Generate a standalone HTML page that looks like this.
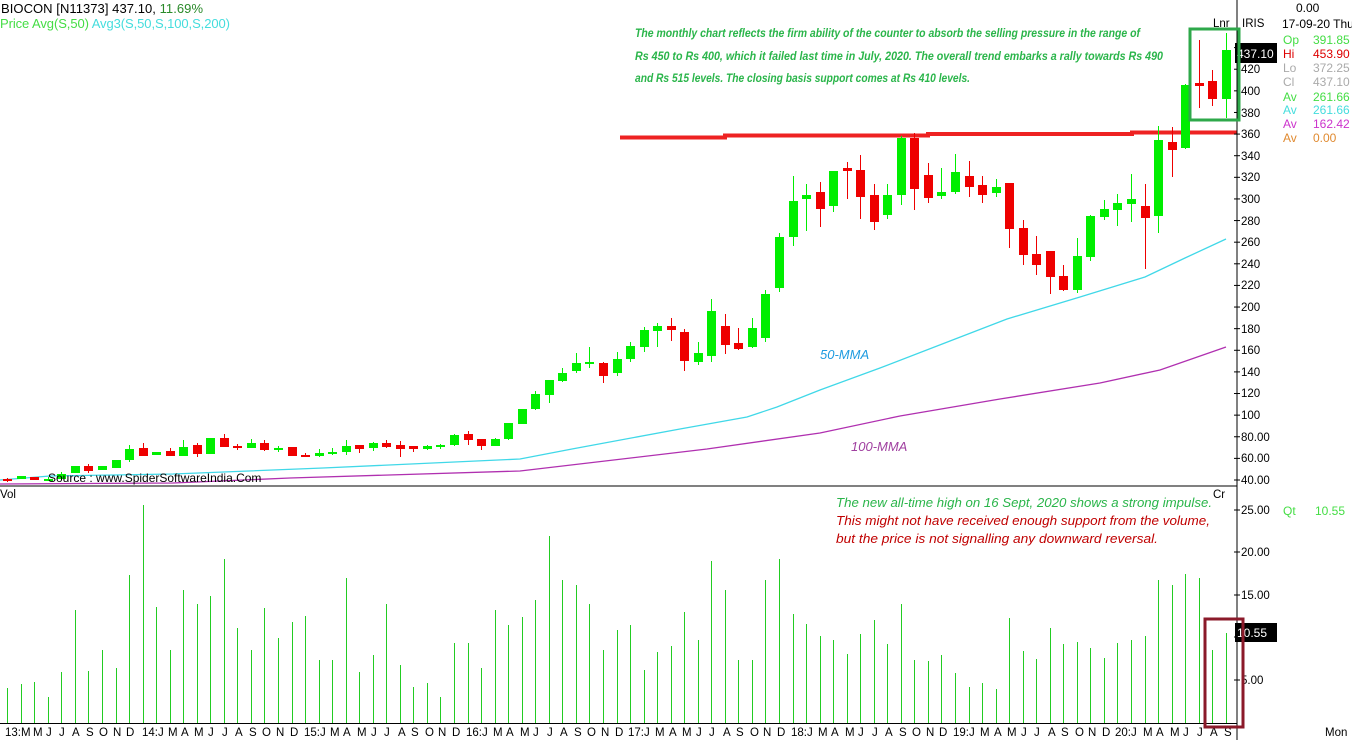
<!DOCTYPE html>
<html><head><meta charset="utf-8"><style>
html,body{margin:0;padding:0;background:#fff;width:1352px;height:740px;overflow:hidden}
svg{display:block;font-family:"Liberation Sans",sans-serif}
.ax{font-size:11.5px;fill:#000}
.ann{font-size:12px;font-style:italic;font-weight:bold;fill:#2ab54a}
.ann2{font-size:13px;font-style:italic}
</style></head><body>
<svg id="s" width="1352" height="740" viewBox="0 0 1352 740">
<g id="plot"></g>
<line x1="1237" y1="0" x2="1237" y2="740" stroke="#000" stroke-width="1"/>
<line x1="0" y1="486" x2="1237" y2="486" stroke="#000" stroke-width="1"/>
<line x1="0" y1="723.5" x2="1237" y2="723.5" stroke="#000" stroke-width="1"/>
<g id="ticks"></g>
<text x="1" y="13" font-size="13" fill="#000" textLength="202">BIOCON [N11373]  437.10,  <tspan fill="#2a8a2a">11.69%</tspan></text>
<text x="0" y="28" font-size="13" fill="#44dd44" textLength="230">Price  Avg(S,50)  <tspan fill="#44dddd">Avg3(S,50,S,100,S,200)</tspan></text>
<text class="ann" x="635" y="37" textLength="505" lengthAdjust="spacingAndGlyphs">The monthly chart reflects the firm ability of the counter to absorb the selling pressure in the range of</text>
<text class="ann" x="635" y="60" textLength="528" lengthAdjust="spacingAndGlyphs">Rs 450 to Rs 400, which it failed last time in July, 2020. The overall trend embarks a rally towards Rs 490</text>
<text class="ann" x="635" y="82" textLength="335" lengthAdjust="spacingAndGlyphs">and Rs 515 levels. The closing basis support comes at Rs 410 levels.</text>
<text class="ann2" x="820" y="359" fill="#1e9be0">50-MMA</text>
<text class="ann2" x="851" y="451" fill="#a040a0">100-MMA</text>
<text class="ann2" x="836" y="507" fill="#2ab54a" textLength="376" lengthAdjust="spacingAndGlyphs">The new all-time high on 16 Sept, 2020 shows a strong impulse.</text>
<text class="ann2" x="836" y="525" fill="#c00000" textLength="374" lengthAdjust="spacingAndGlyphs">This might not have received enough support from the volume,</text>
<text class="ann2" x="836" y="543" fill="#c00000" textLength="322" lengthAdjust="spacingAndGlyphs">but the price is not signalling any downward reversal.</text>
<text x="48" y="482" font-size="12" fill="#000">Source : www.SpiderSoftwareIndia.Com</text>
<g class="ax">
<text x="1241" y="484">40.00</text><text x="1241" y="462">60.00</text><text x="1241" y="441">80.00</text>
<text x="1241" y="419">100</text><text x="1241" y="397">120</text><text x="1241" y="376">140</text>
<text x="1241" y="354">160</text><text x="1241" y="333">180</text><text x="1241" y="311">200</text>
<text x="1241" y="289">220</text><text x="1241" y="268">240</text><text x="1241" y="246">260</text>
<text x="1241" y="225">280</text><text x="1241" y="203">300</text><text x="1241" y="181">320</text>
<text x="1241" y="160">340</text><text x="1241" y="138">360</text><text x="1241" y="117">380</text>
<text x="1241" y="95">400</text><text x="1241" y="73">420</text>
<text x="1213" y="27">Lnr</text><text x="1242" y="27">IRIS</text>
<text x="1241" y="514">25.00</text><text x="1241" y="556">20.00</text><text x="1241" y="599">15.00</text><text x="1241" y="684">5.00</text>
<text x="0" y="498">Vol</text><text x="1213" y="498">Cr</text>
<text x="1325" y="736">Mon</text>
</g>
<rect x="1235" y="43" width="42" height="20" fill="#000"/>
<text x="1237" y="58" font-size="12" fill="#fff">437.10</text>
<rect x="1235" y="623" width="42" height="19" fill="#000"/>
<text x="1237" y="637" font-size="12" fill="#fff">10.55</text>
<g font-size="12">
<text x="1296" y="12" fill="#000">0.00</text>
<text x="1282" y="28" fill="#000">17-09-20 Thu</text>
<text x="1283" y="44" fill="#44dd44">Op</text><text x="1313" y="44" fill="#44dd44">391.85</text>
<text x="1283" y="58" fill="#dd0000">Hi</text><text x="1313" y="58" fill="#dd0000">453.90</text>
<text x="1283" y="72" fill="#aaaaaa">Lo</text><text x="1313" y="72" fill="#aaaaaa">372.25</text>
<text x="1283" y="86" fill="#aaaaaa">Cl</text><text x="1313" y="86" fill="#aaaaaa">437.10</text>
<text x="1283" y="101" fill="#44dd44">Av</text><text x="1313" y="101" fill="#44dd44">261.66</text>
<text x="1283" y="114" fill="#44dddd">Av</text><text x="1313" y="114" fill="#44dddd">261.66</text>
<text x="1283" y="128" fill="#cc33cc">Av</text><text x="1313" y="128" fill="#cc33cc">162.42</text>
<text x="1283" y="142" fill="#e08a30">Av</text><text x="1313" y="142" fill="#e08a30">0.00</text>
<text x="1283" y="515" fill="#44dd44">Qt</text><text x="1315" y="515" fill="#44dd44">10.55</text>
</g>
<g class="ax" font-size="11">
<text x="5" y="736">13:M</text><text x="33" y="736">M</text><text x="46" y="736">J</text><text x="59" y="736">J</text><text x="72" y="736">A</text><text x="86" y="736">S</text><text x="99" y="736">O</text><text x="113" y="736">N</text><text x="126" y="736">D</text>
<text x="142" y="736">14:J</text><text x="168" y="736">M</text><text x="181" y="736">A</text><text x="194" y="736">M</text><text x="208" y="736">J</text><text x="222" y="736">J</text><text x="235" y="736">A</text><text x="249" y="736">S</text><text x="262" y="736">O</text><text x="276" y="736">N</text><text x="290" y="736">D</text>
<text x="304" y="736">15:J</text><text x="330" y="736">M</text><text x="343" y="736">A</text><text x="357" y="736">M</text><text x="371" y="736">J</text><text x="384" y="736">J</text><text x="398" y="736">A</text><text x="411" y="736">S</text><text x="425" y="736">O</text><text x="438" y="736">N</text><text x="452" y="736">D</text>
<text x="466" y="736">16:J</text><text x="493" y="736">M</text><text x="506" y="736">A</text><text x="520" y="736">M</text><text x="533" y="736">J</text><text x="547" y="736">J</text><text x="560" y="736">A</text><text x="574" y="736">S</text><text x="587" y="736">O</text><text x="601" y="736">N</text><text x="615" y="736">D</text>
<text x="628" y="736">17:J</text><text x="655" y="736">M</text><text x="669" y="736">A</text><text x="682" y="736">M</text><text x="696" y="736">J</text><text x="709" y="736">J</text><text x="723" y="736">A</text><text x="736" y="736">S</text><text x="750" y="736">O</text><text x="763" y="736">N</text><text x="777" y="736">D</text>
<text x="791" y="736">18:J</text><text x="818" y="736">M</text><text x="831" y="736">A</text><text x="845" y="736">M</text><text x="858" y="736">J</text><text x="872" y="736">J</text><text x="885" y="736">A</text><text x="899" y="736">S</text><text x="912" y="736">O</text><text x="926" y="736">N</text><text x="939" y="736">D</text>
<text x="953" y="736">19:J</text><text x="980" y="736">M</text><text x="994" y="736">A</text><text x="1007" y="736">M</text><text x="1021" y="736">J</text><text x="1034" y="736">J</text><text x="1048" y="736">A</text><text x="1061" y="736">S</text><text x="1075" y="736">O</text><text x="1088" y="736">N</text><text x="1102" y="736">D</text>
<text x="1115" y="736">20:J</text><text x="1143" y="736">M</text><text x="1156" y="736">A</text><text x="1170" y="736">M</text><text x="1183" y="736">J</text><text x="1197" y="736">J</text><text x="1210" y="736">A</text><text x="1224" y="736">S</text>
</g>
<rect x="1190" y="29" width="49" height="91" fill="none" stroke="#2ea84a" stroke-width="3"/>
<rect x="1205" y="619" width="38" height="108" fill="none" stroke="#8b1a2a" stroke-width="3"/>
</svg>
<script>
var NS="http://www.w3.org/2000/svg";
function el(t,a,p){var e=document.createElementNS(NS,t);for(var k in a)e.setAttribute(k,a[k]);(p||document.getElementById('plot')).appendChild(e);return e;}
var C=[
['r',479,481,478,482],['g',476,479,476,479],['r',477,480,477,480],['g',479,480,477,481],['g',474,479,472,480],
['g',466,473,466,473],['r',466,471,464,473],['g',466,470,466,470],['g',460,468,460,468],['g',449,460,445,462],
['r',448,456,443,456],['g',452,455,452,455],['r',451,456,448,456],['g',447,456,440,456],['r',445,454,443,457],
['g',438,454,438,454],['r',438,447,434,447],['r',446,448,444,450],['g',443,448,439,448],['r',443,450,440,451],
['g',448,449,446,452],['r',447,456,447,456],['r',455,456,453,457],['g',453,456,449,457],['g',452,454,448,455],
['g',446,452,440,455],['r',445,449,445,453],['g',443,448,442,451],['r',443,447,440,448],['r',445,449,441,457],
['r',446,449,446,452],['g',446,449,445,450],['g',445,447,444,449],['g',435,445,434,446],['r',434,440,431,445],
['r',439,446,439,450],['g',439,446,438,446],['g',423,439,423,440],['g',409,424,409,424],['g',394,409,391,410],
['g',380,395,380,403],['g',373,381,368,382],['g',363,371,353,373],['g',362,364,347,368],['r',363,376,362,383],
['g',359,373,352,376],['g',346,359,342,362],['g',330,347,327,352],['g',326,331,323,347],['r',326,330,318,341],
['r',332,361,329,371],['g',353,362,342,365],['g',311,356,299,362],['r',326,345,314,354],['r',343,349,328,350],
['g',328,347,318,348],['g',294,338,290,342],['g',237,288,233,292],['g',201,237,176,246],['g',195,199,184,231],
['r',192,209,182,227],['g',171,206,171,212],['r',168,171,162,199],['r',170,197,155,219],['r',195,222,184,230],
['g',195,215,184,219],['g',138,195,136,205],['r',138,189,133,210],['r',175,198,163,203],['g',192,196,168,199],
['g',172,192,154,194],['r',176,187,161,197],['r',185,195,176,203],['g',187,193,179,197],['r',183,229,183,248],
['r',228,255,220,265],['r',254,265,236,275],['r',251,277,251,294],['r',276,290,265,291],['g',256,290,238,293],
['g',216,257,215,261],['g',209,217,200,220],['g',203,210,194,226],['g',199,204,174,222],['r',206,218,184,269],
['g',140,216,126,233],['r',142,150,127,177],['g',85,148,84,149],['r',83,86,40,108],['r',81,99,70,106],['g',50,99,33,118]];
var V=[688,684,682,697,672,610,671,650,668,575,505,607,650,590,604,596,559,628,650,608,638,622,616,660,660,578,672,655,604,665,687,683,697,643,643,668,610,625,617,600,536,580,585,604,650,630,625,670,652,646,612,640,561,590,660,660,580,559,614,624,636,640,654,634,620,644,604,660,661,655,673,687,683,689,618,651,659,628,644,642,648,658,643,640,636,580,585,574,578,650,633];
function X(i){return 7.2+13.54*i;}
el('polyline',{points:"0,480 50,476 173,474 323,468 520,459 572,449 680,429 747,417 777,407 820,390 880,368 950,341 1007,319 1080,297 1145,277 1185,258 1226,239",fill:"none",stroke:"#40d8e8","stroke-width":1.3});
el('polyline',{points:"0,484 173,483 290,478 520,471 707,449 820,433 900,416 1000,399 1100,383 1160,370 1226,347",fill:"none",stroke:"#b030b0","stroke-width":1.3});
el('polyline',{points:"620,137.5 725,137.5 725,135.5 928,135.5 928,134 1132,134 1132,132.5 1237,132.5",fill:"none",stroke:"#ee2222","stroke-width":4});
for(var i=0;i<C.length;i++){var c=C[i],x=Math.round(X(i)),col=c[0]=='g'?'#00ee00':'#ee0000';
 el('rect',{x:x,y:c[3],width:1,height:c[4]-c[3],fill:col});
 var h=Math.max(2,c[2]-c[1]);el('rect',{x:x-4,y:c[1],width:9,height:h,fill:col});}
for(var i=0;i<V.length;i++){var x=Math.round(X(i))+0.5;el('line',{x1:x,y1:V[i],x2:x,y2:723,stroke:'#22cc22','stroke-width':1});}
var t=document.getElementById('ticks');
for(var p=40;p<=440;p+=20){var y=480-(p-40)*1.081;el('line',{x1:1234,y1:y,x2:1240,y2:y,stroke:'#000'},t);}
[510,552,595,637,680].forEach(function(y){el('line',{x1:1234,y1:y,x2:1240,y2:y,stroke:'#000'},t);});
</script>
</body></html>
